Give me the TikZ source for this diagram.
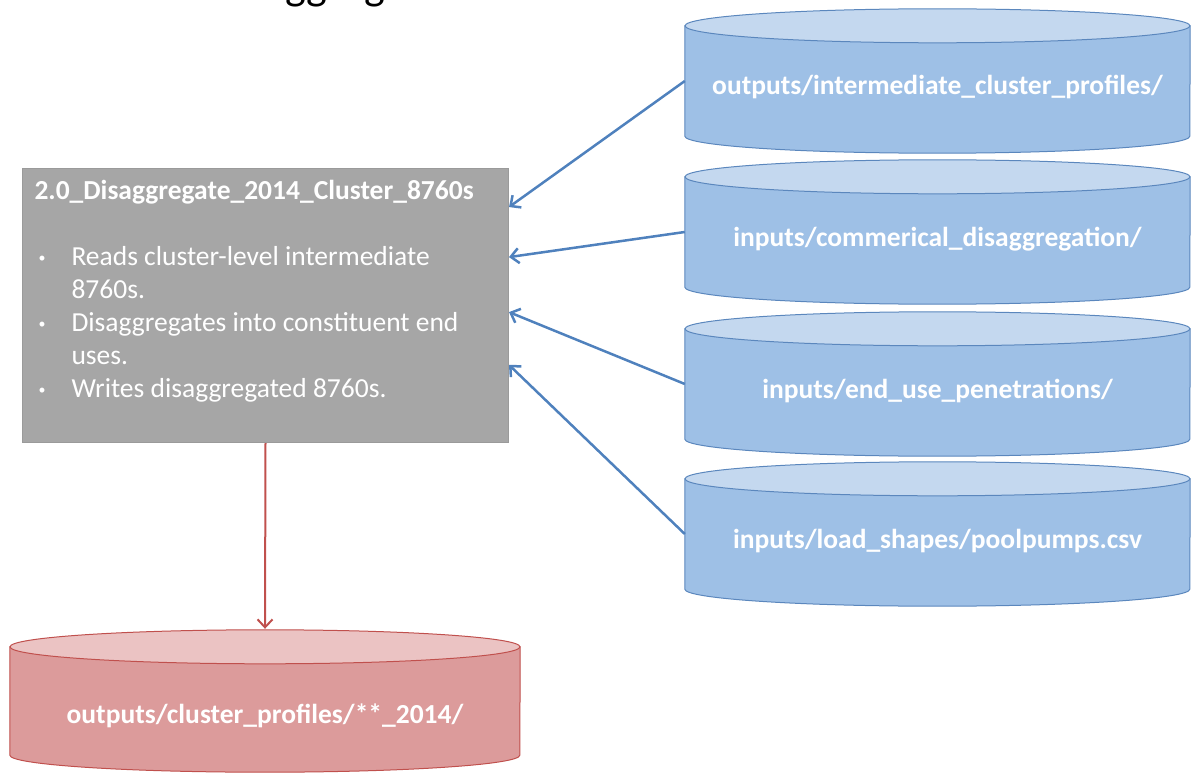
\documentclass[tikz,border=0pt]{standalone}
\usepackage{fontspec}
\setmainfont{Carlito}
\usetikzlibrary{arrows.meta,backgrounds,calc}
\definecolor{boxgray}{HTML}{A6A6A6}
\definecolor{boxline}{HTML}{9A9A9A}
\definecolor{bluebody}{HTML}{9EC0E6}
\definecolor{bluetop}{HTML}{C4D8EF}
\definecolor{blueline}{HTML}{5B87BD}
\definecolor{bluearrow}{HTML}{4F81BD}
\definecolor{redbody}{HTML}{DC9B9B}
\definecolor{redtop}{HTML}{EBC3C3}
\definecolor{redline}{HTML}{C0504D}
\tikzset{
  procbox/.style={draw=boxline,fill=boxgray,line width=1pt,inner sep=12pt,text=white},
  store/.style={inner sep=0pt,minimum width=505pt,minimum height=110pt,text=white,
    text height=34pt,text depth=6pt,font=\bfseries\fontsize{27.5}{33}\selectfont},
  outstore/.style={store,minimum width=510pt,minimum height=108pt,text height=50pt},
  bluecyl/.style={draw=blueline,line width=1pt,fill=bluebody},
  redcyl/.style={draw=redline,line width=1pt,fill=redbody},
  feed/.style={-{Straight Barb[length=8pt,width=15pt]},line width=2.5pt,bluearrow},
  result/.style={-{Straight Barb[length=8pt,width=15pt]},line width=2pt,redline}
}
\newcommand{\bul}{\makebox[37pt][l]{\hspace*{4pt}\raisebox{3pt}{\fontsize{14}{14}\selectfont\textbullet}}}
\begin{document}
\begin{tikzpicture}[x=1pt,y=-1pt]
    \useasboundingbox (0,0) rectangle (1192,773);
    \clip (0,0) rectangle (1192,773);
    \node[anchor=base west,font=\fontsize{44}{50}\selectfont] (title) at (72,0) {Cluster Disaggregation};

    \node[procbox,anchor=north west] (proc) at (22,168)
      {\parbox[c][250pt][t]{462pt}{\fontsize{27.5}{33}\selectfont
        {\bfseries 2.0\_Disaggregate\_2014\_Cluster\_8760s}\\[33pt]
        \bul Reads cluster-level intermediate\\
        \hspace*{37pt}8760s.\\
        \bul Disaggregates into constituent end\\
        \hspace*{37pt}uses.\\
        \bul Writes disaggregated 8760s.}};

    % data stores
    \node[store] (in1) at (937.5,81) {outputs/intermediate\_cluster\_profiles/};
    \node[store] (in2) at (937.5,232) {inputs/commerical\_disaggregation/};
    \node[store] (in3) at (937.5,384) {inputs/end\_use\_penetrations/};
    \node[store] (in4) at (937.5,534) {inputs/load\_shapes/poolpumps.csv};
    \node[outstore] (out) at (265,701) {outputs/cluster\_profiles/**\_2014/};

    \begin{scope}[on background layer]
      \foreach \n in {in1,in2,in3,in4} {
        \draw[bluecyl] (\n.north west) -- (\n.south west)
          arc[start angle=180,end angle=360,x radius=252.5pt,y radius=17pt]
          -- (\n.north east) -- cycle;
        \draw[bluecyl,fill=bluetop] (\n.north) ellipse[x radius=252.5pt,y radius=17pt];
      }
      \draw[redcyl] (out.north west) -- (out.south west)
        arc[start angle=180,end angle=360,x radius=255pt,y radius=17pt]
        -- (out.north east) -- cycle;
      \draw[redcyl,fill=redtop] (out.north) ellipse[x radius=255pt,y radius=17pt];
    \end{scope}

    \draw[feed] (in1.west) -- ($(proc.north east)!0.142!(proc.south east)$);
    \draw[feed] (in2.west) -- ($(proc.north east)!0.324!(proc.south east)$);
    \draw[feed] (in3.west) -- ($(proc.north east)!0.524!(proc.south east)$);
    \draw[feed] (in4.west) -- ($(proc.north east)!0.716!(proc.south east)$);
    \draw[result] (proc.south) -- ($(out.north)+(0,-18)$);
\end{tikzpicture}
\end{document}
